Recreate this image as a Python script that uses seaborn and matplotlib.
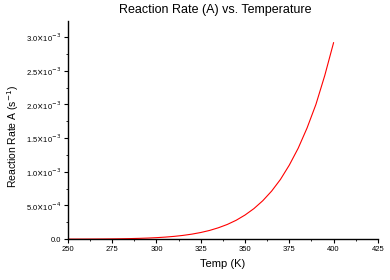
import matplotlib
matplotlib.use("Agg")
import matplotlib.pyplot as plt
import numpy as np
import pandas as pd
import seaborn as sns
from matplotlib.ticker import MultipleLocator, FixedLocator

# temperature (K) and rate
temp = [250, 255, 260, 265, 270, 275, 280, 285, 290, 295, 300, 305, 310,
        315, 320, 325, 330, 335, 340, 345, 350, 355, 360, 365, 370, 375,
        380, 385, 390, 395, 400]
rate = [4.3e-7, 6.8e-7, 1.07e-6, 1.63e-6, 2.46e-6, 3.66e-6, 5.36e-6,
        7.74e-6, 1.11e-5, 1.56e-5, 2.17e-5, 3.00e-5, 4.09e-5, 5.53e-5,
        7.40e-5, 9.82e-5, 1.29e-4, 1.69e-4, 2.18e-4, 2.80e-4, 3.58e-4,
        4.53e-4, 5.70e-4, 7.13e-4, 8.87e-4, 1.10e-3, 1.35e-3, 1.65e-3,
        2.00e-3, 2.43e-3, 2.92e-3]

xticks = [250, 275, 300, 325, 350, 375, 400, 425]
yticks = [0.0, 5.0e-4, 1.0e-3, 1.5e-3, 2.0e-3, 2.5e-3, 3.0e-3]
ylabels = ["0.0", r"5.0$\times$10$^{-4}$", r"1.0$\times$10$^{-3}$",
           r"1.5$\times$10$^{-3}$", r"2.0$\times$10$^{-3}$",
           r"2.5$\times$10$^{-3}$", r"3.0$\times$10$^{-3}$"]

df = pd.DataFrame({"Temp": temp, "Rate": rate})

sns.set_theme(style="ticks")
plt.rcParams['font.family'] = ['Liberation Sans', 'DejaVu Sans']
plt.rcParams['text.color'] = 'black'
plt.rcParams['axes.labelcolor'] = 'black'
plt.rcParams['xtick.color'] = 'black'
plt.rcParams['ytick.color'] = 'black'

fig = plt.figure(figsize=(3.9, 2.8), dpi=100)
ax = fig.add_axes([0.174, 0.146, 0.795, 0.779])
sns.lineplot(data=df, x="Temp", y="Rate", color="red", linewidth=0.8, ax=ax)

ax.set_xlim(250, 425)
ax.set_ylim(0, 3.24e-3)
ax.xaxis.set_major_locator(FixedLocator(xticks))
ax.xaxis.set_minor_locator(MultipleLocator(12.5))
ax.yaxis.set_major_locator(FixedLocator(yticks))
ax.yaxis.set_minor_locator(MultipleLocator(2.5e-4))
ax.set_xticklabels([str(t) for t in xticks])
ax.set_yticklabels(ylabels)
ax.tick_params(which="major", direction="out", length=3, width=0.8,
               labelsize=5.5, color="black", labelcolor="black", pad=2)
ax.tick_params(which="minor", direction="out", length=1.5, width=0.6,
               color="black")

for s in ["top", "right"]:
    ax.spines[s].set_visible(False)
for s in ["left", "bottom"]:
    ax.spines[s].set_color("black")
    ax.spines[s].set_linewidth(1.0)

ax.set_title("Reaction Rate (A) vs. Temperature", fontsize=9, pad=6,
             color="black", x=0.475)
ax.set_xlabel("Temp (K)", fontsize=8, color="black")
ax.set_ylabel("Reaction Rate A (s$^{-1}$)", fontsize=7.5, color="black")
ax.yaxis.set_label_coords(-0.15, 0.47)

fig.savefig("out.png", dpi=100)
